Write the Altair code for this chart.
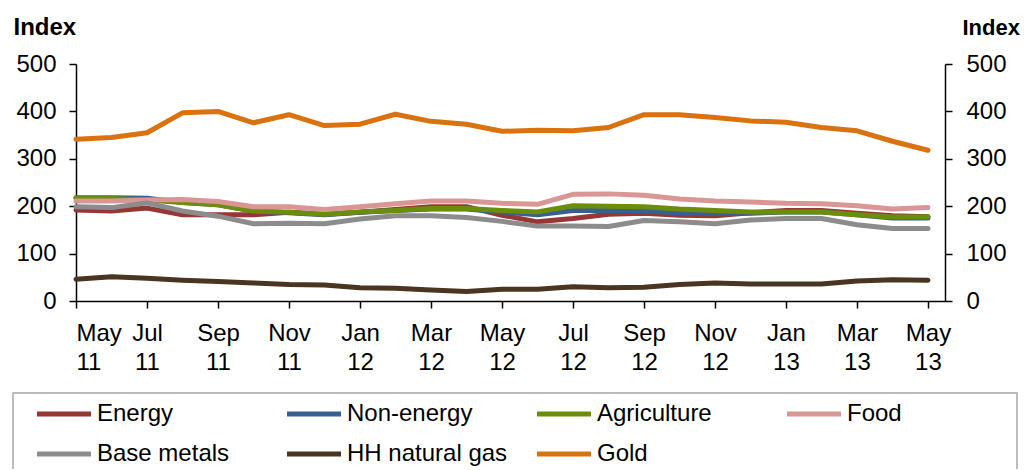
import json
import altair as alt
import pandas as pd

months = ["May 11", "Jun 11", "Jul 11", "Aug 11", "Sep 11", "Oct 11", "Nov 11", "Dec 11",
          "Jan 12", "Feb 12", "Mar 12", "Apr 12", "May 12", "Jun 12", "Jul 12", "Aug 12",
          "Sep 12", "Oct 12", "Nov 12", "Dec 12", "Jan 13", "Feb 13", "Mar 13", "Apr 13", "May 13"]

energy = [192, 190, 196, 182, 182, 182, 187, 183, 187, 193, 199, 199, 181, 167, 174, 183,
          185, 181, 180, 186, 191, 191, 185, 180, 178]
non_energy = [218, 218, 217, 208, 203, 190, 186, 182, 187, 191, 194, 194, 188, 182, 191, 191,
              190, 186, 185, 185, 188, 188, 182, 175, 175]
agriculture = [217, 216, 213, 208, 203, 190, 187, 183, 188, 191, 195, 195, 191, 188, 201, 200,
               199, 194, 191, 188, 188, 188, 182, 177, 178]
food = [211, 211, 213, 214, 210, 199, 199, 193, 199, 205, 211, 211, 206, 204, 225, 226,
        223, 215, 211, 209, 206, 205, 201, 194, 197]
base_metals = [199, 197, 207, 190, 179, 163, 164, 163, 173, 180, 180, 176, 168, 158, 158, 157,
               170, 167, 163, 171, 174, 174, 161, 153, 153]
hh_gas = [46, 51, 48, 44, 41, 38, 35, 34, 28, 27, 23, 20, 25, 25, 30, 28,
          29, 35, 38, 36, 36, 36, 42, 45, 44]
gold = [341, 345, 355, 397, 400, 376, 393, 370, 373, 394, 379, 373, 358, 360, 359, 366,
        393, 393, 387, 380, 377, 366, 359, 337, 318]

series_names = ["Energy", "Non-energy", "Agriculture", "Food", "Base metals", "HH natural gas", "Gold"]
series_colors = ["#953735", "#376092", "#6B8E0A", "#DA9694", "#8C8C8C", "#4A3520", "#D9720F"]
y_ticks = [0, 100, 200, 300, 400, 500]
x_ticks = list(range(0, 25, 2))

all_series = [energy, non_energy, agriculture, food, base_metals, hh_gas, gold]
rows = []
for name, vals in zip(series_names, all_series):
    for i, (m, v) in enumerate(zip(months, vals)):
        rows.append({"idx": i, "month": m, "series": name, "value": v})
df = pd.DataFrame(rows)

FONT = "Liberation Sans"
W, H = 869, 237

x_enc = alt.X(
    "idx:Q",
    scale=alt.Scale(domain=[0, 24.48], nice=False, zero=False),
    axis=alt.Axis(
        values=x_ticks,
        labelExpr=f"split({json.dumps(months)}[datum.value], ' ')",
        title=None, grid=False, tickSize=7, labelPadding=13,
        labelLineHeight=29, labelBaseline="top",
    ),
)

lines = alt.Chart(df).mark_line(strokeWidth=5, strokeJoin="round", strokeCap="round").encode(
    x=x_enc,
    y=alt.Y("value:Q", scale=alt.Scale(domain=[0, 500], nice=False),
            axis=alt.Axis(values=y_ticks, orient="left", grid=False, tickSize=7,
                          labelPadding=13, title="Index", titleAngle=0, titleX=-63,
                          titleY=-30, titleAlign="left", titleBaseline="alphabetic")),
    color=alt.Color("series:N", scale=alt.Scale(domain=series_names, range=series_colors),
                    sort=series_names,
                    legend=alt.Legend(orient="none", legendX=-24, legendY=338, columns=4,
                                      direction="horizontal",
                                      symbolType="M-3,0H3", symbolSize=324,
                                      symbolStrokeWidth=5, labelFontSize=24, labelFont=FONT,
                                      title=None, gridAlign="all", columnPadding=19,
                                      rowPadding=16, labelOffset=21, labelLimit=400,
                                      symbolOpacity=1)),
    detail="series:N",
)

right_axis = alt.Chart(df).mark_line(opacity=0).encode(
    x=alt.X("idx:Q", scale=alt.Scale(domain=[0, 24.48], nice=False, zero=False)),
    y=alt.Y("value:Q", scale=alt.Scale(domain=[0, 500], nice=False),
            axis=alt.Axis(values=y_ticks, orient="right", grid=False, tickSize=7,
                          labelPadding=14, title="Index", titleAngle=0, titleX=17,
                          titleY=-30, titleAlign="left", titleBaseline="alphabetic",
                          titleFontSize=22)),
)

one = alt.Data(values=[{"a": 1}])
legend_box = alt.Chart(one).mark_rect(fill=None, stroke="#A6A6A6", strokeWidth=1.5).encode(
    x=alt.value(-63), x2=alt.value(941), y=alt.value(329), y2=alt.value(440))

chart = alt.layer(legend_box, lines, right_axis).resolve_scale(y="independent").properties(
    width=W, height=H,
    autosize=alt.AutoSizeParams(type="none"),
    padding={"left": 68, "top": 56, "right": 76, "bottom": 168},
).configure_view(stroke=None).configure_axis(
    labelFont=FONT, labelFontSize=24, labelColor="#000000",
    titleFont=FONT, titleFontSize=24, titleFontWeight="bold", titleColor="#000000",
    domainColor="#000000", domainWidth=1.5, tickColor="#000000", tickWidth=1.5,
)

chart.save("out.html", embed_options={"renderer": "svg", "actions": False})
